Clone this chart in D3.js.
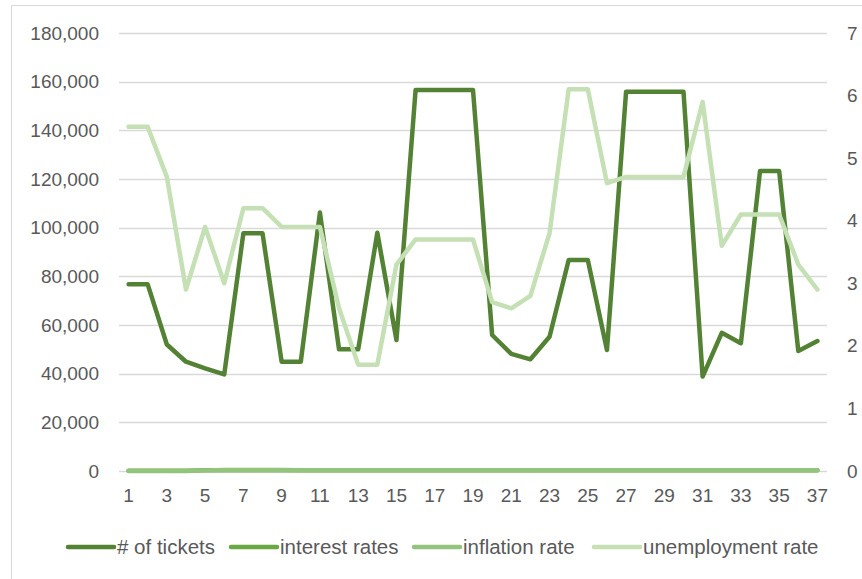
<!DOCTYPE html>
<html>
<head>
<meta charset="utf-8">
<script src="https://cdn.jsdelivr.net/npm/d3@7"></script>
<style>
  body { margin: 0; background: #fff; }
  text { font-family: "Liberation Sans", Arial, sans-serif; fill: #595959; }
</style>
</head>
<body>
<div id="chart"></div>
<script>
var svgWidth = 862;
var svgHeight = 579;

var margin = {top: 33, right: 35, bottom: 108, left: 119},
    width = 827 - margin.left,
    height = 471 - margin.top;

// periods 1..37
var periods = d3.range(1, 38);

var tickets = [76700, 76700, 52000, 44900, 42200, 39700, 97700, 97700, 44900, 44900,
               106200, 50000, 50000, 97900, 53800, 156600, 156600, 156600, 156600, 55900,
               48100, 45900, 55200, 86700, 86700, 49700, 155900, 155900, 155900, 155900,
               38800, 56800, 52500, 123300, 123300, 49300, 53400];

var interestRates = [0.005, 0.005, 0.005, 0.005, 0.01, 0.01, 0.01, 0.01, 0.01, 0.01,
                     0.01, 0.01, 0.01, 0.01, 0.01, 0.01, 0.01, 0.01, 0.01, 0.01,
                     0.01, 0.01, 0.01, 0.01, 0.01, 0.01, 0.01, 0.01, 0.01, 0.01,
                     0.01, 0.01, 0.01, 0.01, 0.01, 0.01, 0.01];

var inflationRate = [0.0, 0.0, 0.0, 0.0, 0.01, 0.015, 0.015, 0.015, 0.015, 0.01,
                     0.01, 0.01, 0.01, 0.01, 0.01, 0.01, 0.01, 0.01, 0.01, 0.01,
                     0.01, 0.01, 0.01, 0.01, 0.01, 0.01, 0.01, 0.01, 0.01, 0.01,
                     0.01, 0.01, 0.01, 0.01, 0.01, 0.01, 0.01];

var unemployment = [5.5, 5.5, 4.7, 2.9, 3.9, 3.0, 4.2, 4.2, 3.9, 3.9,
                    3.9, 2.6, 1.7, 1.7, 3.3, 3.7, 3.7, 3.7, 3.7, 2.7,
                    2.6, 2.8, 3.8, 6.1, 6.1, 4.6, 4.7, 4.7, 4.7, 4.7,
                    5.9, 3.6, 4.1, 4.1, 4.1, 3.3, 2.9];

var leftTicks = d3.range(0, 180001, 20000);
var rightTicks = d3.range(0, 8, 1);

var seriesNames = ["# of tickets", "interest rates", "inflation rate", "unemployment rate"];
var colors = ["#548235", "#6aa843", "#93c47d", "#c5e0b4"];

var svg = d3.select("#chart").append("svg")
    .attr("width", svgWidth)
    .attr("height", svgHeight);

// chart frame
svg.append("rect")
    .attr("x", 11.5).attr("y", 5.5)
    .attr("width", 900).attr("height", 600)
    .attr("fill", "none")
    .attr("stroke", "#d9d9d9");

var g = svg.append("g")
    .attr("transform", "translate(" + margin.left + "," + margin.top + ")");

var x = d3.scaleBand()
    .domain(periods)
    .range([0, width]);

var yLeft = d3.scaleLinear()
    .domain([0, 180000])
    .range([height, 0]);

var yRight = d3.scaleLinear()
    .domain([0, 7])
    .range([height, 0]);

var fmt = d3.format(",");

// gridlines
g.selectAll(".grid")
    .data(leftTicks)
    .enter().append("line")
    .attr("class", "grid")
    .attr("x1", 0).attr("x2", width)
    .attr("y1", function(d) { return Math.round(yLeft(d)) + 0.5; })
    .attr("y2", function(d) { return Math.round(yLeft(d)) + 0.5; })
    .attr("stroke", "#d9d9d9")
    .attr("stroke-width", 1.3);

// left axis
var leftAxis = g.append("g")
    .call(d3.axisLeft(yLeft).tickValues(leftTicks).tickFormat(fmt).tickSize(0).tickPadding(20));
leftAxis.select(".domain").remove();

// right axis
var rightAxis = g.append("g")
    .attr("transform", "translate(" + width + ",0)")
    .call(d3.axisRight(yRight).tickValues(rightTicks).tickFormat(d3.format("d")).tickSize(0).tickPadding(20));
rightAxis.select(".domain").remove();

// bottom axis
var bottomAxis = g.append("g")
    .attr("transform", "translate(0," + height + ")")
    .call(d3.axisBottom(x).tickValues(periods.filter(function(d) { return d % 2 == 1; })).tickSize(0).tickPadding(18));
bottomAxis.select(".domain").remove();

svg.selectAll(".tick text")
    .style("font-size", "19px")
    .style("fill", "#595959");

function cx(d, i) { return x(periods[i]) + x.bandwidth() / 2; }

var lineLeft = d3.line().x(cx).y(function(d) { return yLeft(d); });
var lineRight = d3.line().x(cx).y(function(d) { return yRight(d); });

var series = [
    {values: tickets, line: lineLeft},
    {values: interestRates, line: lineRight},
    {values: inflationRate, line: lineRight},
    {values: unemployment, line: lineRight}
];

g.selectAll(".series")
    .data(series)
    .enter().append("path")
    .attr("class", "series")
    .attr("d", function(d) { return d.line(d.values); })
    .attr("fill", "none")
    .attr("stroke", function(d, i) { return colors[i]; })
    .attr("stroke-width", 4.5)
    .attr("stroke-linejoin", "round")
    .attr("stroke-linecap", "round");

// legend
var legendX = [66, 229, 412, 592];
var legend = svg.append("g").attr("class", "legend");

var item = legend.selectAll("g")
    .data(seriesNames)
    .enter().append("g")
    .attr("transform", function(d, i) { return "translate(" + legendX[i] + ",547)"; });

item.append("line")
    .attr("x1", 2).attr("x2", 48)
    .attr("y1", 0).attr("y2", 0)
    .attr("stroke", function(d, i) { return colors[i]; })
    .attr("stroke-width", 4.5)
    .attr("stroke-linecap", "round");

item.append("text")
    .attr("x", 51)
    .attr("y", 0)
    .attr("dy", "0.35em")
    .style("font-size", "20.5px")
    .text(function(d) { return d; });
</script>
</body>
</html>
